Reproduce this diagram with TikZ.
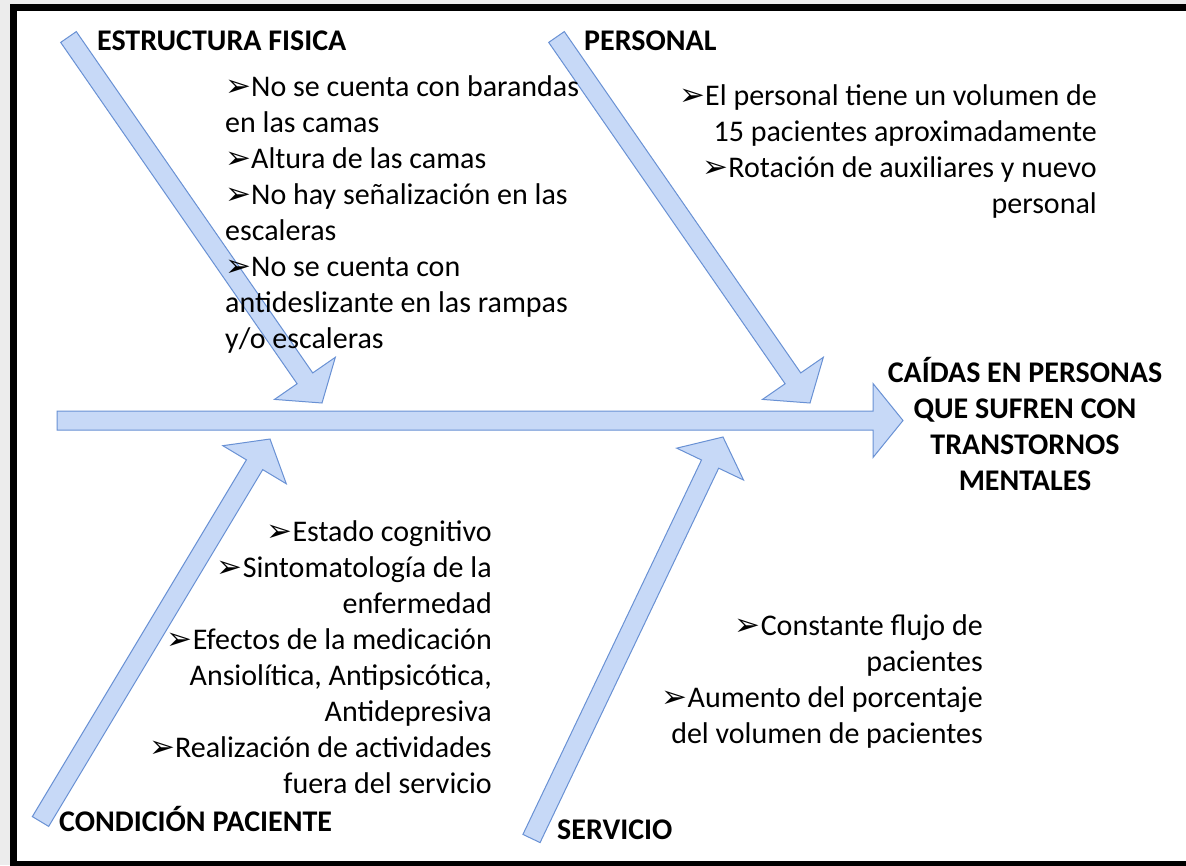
\documentclass[tikz,border=0pt]{standalone}
\usepackage{fontspec}
\setmainfont{Carlito}
\newfontfamily\symfont{DejaVu Sans}
\usetikzlibrary{calc}

\definecolor{bonefill}{RGB}{199,217,247}
\definecolor{boneline}{RGB}{105,145,212}
\definecolor{pagegrey}{RGB}{236,236,236}

\tikzset{
  bone/.style={draw=boneline, fill=bonefill, line width=1pt, line join=miter},
  causetitle/.style={font=\fontsize{30}{36}\selectfont\bfseries, inner sep=0pt},
  causetext/.style={font=\fontsize{30}{36}\selectfont, inner sep=0pt},
}
\newcommand{\bul}{{\symfont\fontsize{31}{36}\selectfont ➢}}

% block arrow from #1 (tail) to #2 (tip)
\newcommand{\fisharrow}[2]{%
  \path ($(#2)!30pt!(#1)$) coordinate (hb);
  \draw[bone] ($(#1)!9.5pt!90:(#2)$) -- ($(hb)!9.5pt!-90:(#1)$) -- ($(hb)!37pt!-90:(#1)$) -- (#2)
    -- ($(hb)!37pt!90:(#1)$) -- ($(hb)!9.5pt!90:(#1)$) -- ($(#1)!9.5pt!-90:(#2)$) -- cycle;}

\begin{document}
\begin{tikzpicture}[x=1pt,y=-1pt]

	\useasboundingbox (0,0) rectangle (1186,865);
	\clip (0,0) rectangle (1186,865);

	% page and frame
	\fill[pagegrey] (0,0) rectangle (1186,865);
	\draw[line width=7pt, fill=white] (13.5,7) rectangle (1200,864.5);

	% ends of the bones
	\coordinate (spine-tail) at (57,420.5);
	\coordinate (spine-tip) at (903,420.5);
	\coordinate (ef-tail) at (68.5,37);
	\coordinate (ef-tip) at (322,403);
	\coordinate (pe-tail) at (556.5,37);
	\coordinate (pe-tip) at (810,403);
	\coordinate (cp-tail) at (40.5,821.5);
	\coordinate (cp-tip) at (270,439);
	\coordinate (se-tail) at (531.5,838.5);
	\coordinate (se-tip) at (723,437);

	% bones
	\fisharrow{spine-tail}{spine-tip} % main spine
	\fisharrow{ef-tail}{ef-tip} % estructura fisica
	\fisharrow{pe-tail}{pe-tip} % personal
	\fisharrow{cp-tail}{cp-tip} % condicion paciente
	\fisharrow{se-tail}{se-tip} % servicio

	% titles
	\node[causetitle, anchor=base west] (efisica) at (97,50) {ESTRUCTURA FISICA};
	\node[causetitle, anchor=base west] (personal) at (584,50) {PERSONAL};
	\node[causetitle, anchor=base west] (cpaciente) at (59,831) {CONDICIÓN PACIENTE};
	\node[causetitle, anchor=base west] (servicio) at (557,839) {SERVICIO};
	\node[causetitle, align=center, anchor=base] (efecto) at (1025,490) {CAÍDAS EN PERSONAS\\QUE SUFREN CON\\TRANSTORNOS\\MENTALES};

	% causes (anchored on the last line)
	\node[causetext, align=left, anchor=base west] (eftxt) at (225,348) {\bul No se cuenta con barandas\\en las camas\\\bul Altura de las camas\\\bul No hay señalización en las\\escaleras\\\bul No se cuenta con\\antideslizante en las rampas\\y/o escaleras};
	\node[causetext, align=right, anchor=base east] (petxt) at (1097,213) {\bul El personal tiene un volumen de\\15 pacientes aproximadamente\\\bul Rotación de auxiliares y nuevo\\personal};
	\node[causetext, align=right, anchor=base east] (cptxt) at (492,793) {\bul Estado cognitivo\\\bul Sintomatología de la\\enfermedad\\\bul Efectos de la medicación\\Ansiolítica, Antipsicótica,\\Antidepresiva\\\bul Realización de actividades\\fuera del servicio};
	\node[causetext, align=right, anchor=base east] (setxt) at (983,743) {\bul Constante flujo de\\pacientes\\\bul Aumento del porcentaje\\del volumen de pacientes};

\end{tikzpicture}
\end{document}
